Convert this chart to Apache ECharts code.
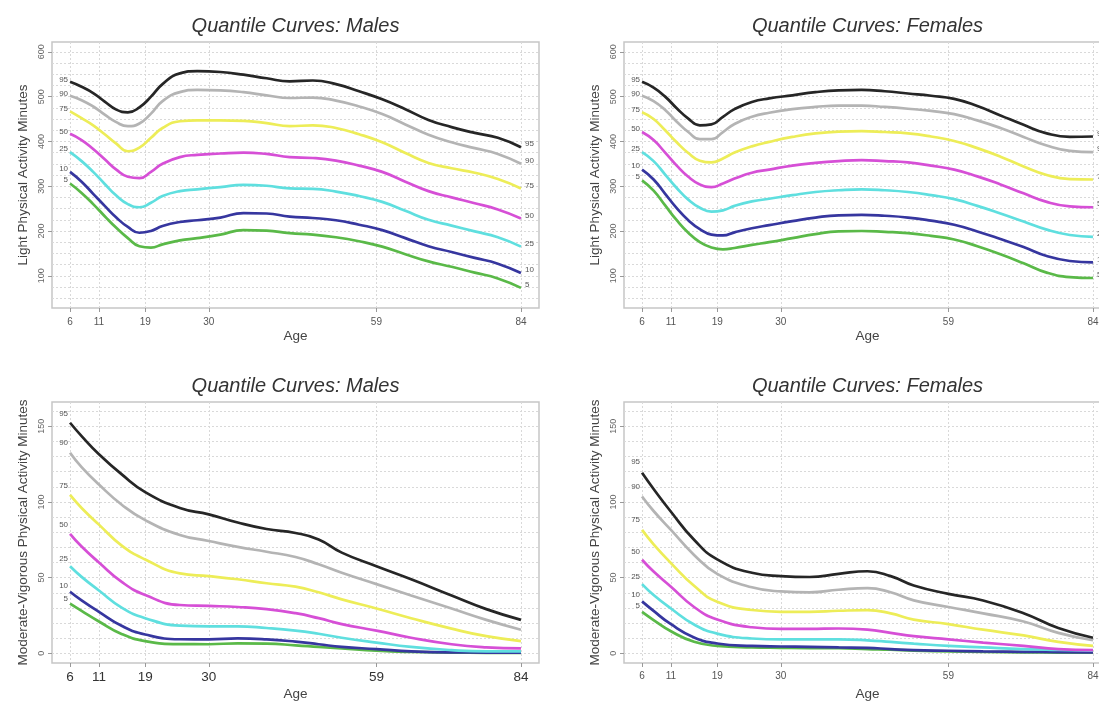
<!DOCTYPE html>
<html>
<head>
<meta charset="utf-8">
<title>Quantile Curves</title>
<script src="https://cdn.jsdelivr.net/npm/echarts@6/dist/echarts.min.js"></script>
<style>
  html, body { margin: 0; padding: 0; background: #ffffff; overflow: hidden; }
  /* the right-hand panels run slightly past the page edge */
  #chart { width: 1125px; height: 702px; }
</style>
</head>
<body>
<div id="chart"></div>
<script>
// Quantile labels and line colours, highest quantile first
const QUANTILES = ['95', '90', '75', '50', '25', '10', '5'];
const COLORS = ['#262626', '#b4b4b4', '#eded58', '#d64fd6', '#5fdfdf', '#36369f', '#5ab948'];

// Age axis ticks
const AGE_TICKS = [6, 11, 19, 30, 59, 84];
const LIGHT_TICKS = [100, 200, 300, 400, 500, 600];
const MVPA_TICKS = [0, 50, 100, 150];

// Light physical activity minutes by age
const AGES_LIGHT = [6, 8, 10, 12, 14, 16, 18, 20, 22, 25, 28, 32, 36, 40, 44, 48, 52, 56, 60, 64, 68, 72, 76, 80, 84];

const LIGHT_M_95 = [533, 522, 508, 489, 471, 465, 476, 500, 528, 552, 557, 555, 549, 541, 534, 536, 528, 512, 494, 472, 448, 432, 419, 408, 387];
const LIGHT_M_90 = [502, 492, 478, 460, 443, 434, 440, 462, 490, 510, 515, 514, 510, 503, 497, 498, 491, 478, 461, 438, 415, 398, 385, 372, 350];
const LIGHT_M_75 = [467, 452, 436, 416, 395, 378, 386, 408, 430, 445, 447, 447, 446, 441, 434, 436, 430, 416, 398, 374, 352, 340, 330, 316, 295];
const LIGHT_M_50 = [417, 403, 383, 360, 337, 321, 318, 332, 350, 365, 370, 373, 375, 372, 365, 363, 357, 346, 332, 310, 289, 275, 262, 248, 228];
const LIGHT_M_25 = [376, 356, 332, 305, 279, 260, 253, 263, 278, 289, 293, 298, 303, 301, 295, 294, 288, 278, 265, 245, 225, 212, 199, 186, 165];
const LIGHT_M_10 = [332, 310, 283, 256, 230, 209, 196, 200, 211, 220, 224, 230, 240, 239, 232, 229, 224, 214, 202, 184, 166, 153, 140, 127, 106];
const LIGHT_M_5  = [306, 285, 260, 233, 207, 184, 166, 163, 170, 179, 184, 192, 202, 201, 195, 192, 186, 177, 165, 148, 132, 120, 107, 94, 73];

const LIGHT_F_95 = [533, 520, 500, 474, 451, 436, 438, 455, 472, 488, 496, 503, 510, 514, 515, 512, 507, 502, 495, 479, 458, 437, 418, 410, 411];
const LIGHT_F_90 = [502, 490, 470, 444, 421, 405, 405, 421, 439, 455, 464, 472, 477, 480, 480, 477, 473, 468, 461, 447, 430, 410, 391, 379, 376];
const LIGHT_F_75 = [465, 450, 425, 398, 374, 357, 353, 362, 375, 389, 399, 410, 418, 422, 423, 421, 418, 411, 401, 385, 366, 344, 325, 316, 315];
const LIGHT_F_50 = [421, 403, 375, 346, 321, 304, 298, 306, 317, 330, 337, 346, 352, 356, 358, 356, 353, 346, 337, 322, 304, 284, 265, 255, 253];
const LIGHT_F_25 = [376, 356, 326, 296, 270, 252, 243, 246, 256, 266, 272, 280, 287, 291, 293, 291, 287, 280, 271, 256, 239, 221, 203, 191, 187];
const LIGHT_F_10 = [337, 315, 283, 251, 224, 204, 192, 190, 197, 206, 213, 222, 230, 235, 236, 234, 230, 223, 214, 199, 182, 164, 144, 133, 130];
const LIGHT_F_5  = [313, 290, 257, 224, 196, 175, 163, 159, 162, 169, 175, 184, 193, 199, 200, 198, 195, 189, 181, 166, 148, 128, 107, 97, 95];

// Moderate-vigorous physical activity minutes by age
const AGES_MVPA = [6, 8, 11, 15, 19, 25, 30, 35, 40, 45, 49, 53, 59, 65, 72, 78, 84];

const MVPA_M_95 = [152.3, 143.5, 131.5, 118, 106.5, 96, 91.8, 86.4, 82.1, 79.5, 75.2, 66.5, 57.5, 48.9, 38.2, 29.2, 22.1];
const MVPA_M_90 = [132.5, 123, 111.5, 98, 88, 78.2, 74.2, 70.3, 67.1, 63.6, 58.8, 53.2, 45.7, 38.2, 29.6, 22.1, 15.6];
const MVPA_M_75 = [104.6, 96, 85, 71, 62, 52.8, 51, 48.9, 46.3, 44, 40.3, 35.6, 29.6, 23.2, 16.3, 11.3, 8.1];
const MVPA_M_50 = [78.9, 70.5, 60, 47, 38.5, 31.9, 31.3, 30.6, 29.2, 26.5, 23.2, 19.3, 15, 10.3, 6, 3.9, 3.2];
const MVPA_M_25 = [57.5, 50.5, 41.5, 30, 23.2, 18.3, 17.8, 17.8, 16.7, 15, 12.9, 10.3, 7.1, 4.2, 2.1, 1.3, 1.3];
const MVPA_M_10 = [40.7, 35, 27.4, 18, 12.4, 9.3, 9.2, 9.8, 9.2, 7.7, 6, 4.2, 2.8, 1.3, 0.6, 0.5, 0.4];
const MVPA_M_5  = [32.8, 28, 21, 12.6, 8.1, 6.1, 6, 6.6, 6.4, 5.3, 4.2, 3.2, 1.7, 0.9, 0.5, 0.3, 0.2];

const MVPA_F_95 = [119.2, 108.5, 93.5, 75, 62, 53.2, 51, 50.4, 52.5, 54.2, 51, 44.8, 39.3, 34.9, 26.5, 16.7, 10.3];
const MVPA_F_90 = [103.6, 94, 81.5, 65, 52.5, 43.6, 40.9, 40.3, 42, 43.1, 40.3, 35, 30.6, 26.4, 21, 13.5, 8.6];
const MVPA_F_75 = [81.5, 72, 59.6, 44.6, 34, 28.6, 27.4, 27.4, 28.1, 28.5, 26.4, 22.3, 19.3, 15.6, 11.8, 7.5, 4.9];
const MVPA_F_50 = [61.8, 54, 44, 30.6, 22.3, 17.2, 16.1, 16.1, 16.4, 15.6, 13.5, 11.3, 9.2, 7.1, 4.9, 2.8, 2.1];
const MVPA_F_25 = [45.7, 38.5, 29.6, 19, 13, 9.8, 9.2, 9.2, 9.2, 8.6, 7.5, 6.4, 4.9, 3.9, 2.8, 2.2, 1.7];
const MVPA_F_10 = [34.3, 28, 19.2, 10.5, 6.5, 4.9, 4.5, 4.3, 3.9, 3.6, 2.8, 2.1, 1.7, 1.3, 1, 0.8, 0.6];
const MVPA_F_5  = [27.4, 22, 14.6, 7.6, 4.9, 3.9, 3.6, 3.4, 3.4, 2.8, 2.4, 1.7, 1.3, 0.9, 0.6, 0.5, 0.4];

const FONT = '"Liberation Sans", Arial, Helvetica, sans-serif';

function steps(from, to, step) {
  const out = [];
  for (let v = from; v <= to + 1e-9; v += step) out.push(v);
  return out;
}

// Panel layout: grid box, axis range, texts
const PANELS = [
  { title: 'Quantile Curves: Males', yName: 'Light Physical Activity Minutes',
    box: { left: 52, top: 42, width: 487, height: 266 },
    yMin: 28, yMax: 622, yTicks: LIGHT_TICKS, yGrid: steps(50, 600, 25),
    ages: AGES_LIGHT, series: [LIGHT_M_95, LIGHT_M_90, LIGHT_M_75, LIGHT_M_50, LIGHT_M_25, LIGHT_M_10, LIGHT_M_5],
    endLabels: true, xFont: 10, xColor: '#555', xMargin: 9, nameGap: 21, labelLift: 4 },
  { title: 'Quantile Curves: Females', yName: 'Light Physical Activity Minutes',
    box: { left: 624, top: 42, width: 487, height: 266 },
    yMin: 28, yMax: 622, yTicks: LIGHT_TICKS, yGrid: steps(50, 600, 25),
    ages: AGES_LIGHT, series: [LIGHT_F_95, LIGHT_F_90, LIGHT_F_75, LIGHT_F_50, LIGHT_F_25, LIGHT_F_10, LIGHT_F_5],
    endLabels: true, xFont: 10, xColor: '#555', xMargin: 9, nameGap: 21, labelLift: 4 },
  { title: 'Quantile Curves: Males', yName: 'Moderate-Vigorous Physical Activity Minutes',
    box: { left: 52, top: 402, width: 487, height: 267 },
    yMin: -6.4, yMax: 166, yTicks: MVPA_TICKS, yGrid: steps(0, 160, 10),
    ages: AGES_MVPA, series: [MVPA_M_95, MVPA_M_90, MVPA_M_75, MVPA_M_50, MVPA_M_25, MVPA_M_10, MVPA_M_5],
    endLabels: false, xFont: 13.5, xColor: '#333', xMargin: 7, nameGap: 24, labelLift: 8 },
  { title: 'Quantile Curves: Females', yName: 'Moderate-Vigorous Physical Activity Minutes',
    box: { left: 624, top: 402, width: 487, height: 267 },
    yMin: -6.4, yMax: 166, yTicks: MVPA_TICKS, yGrid: steps(0, 160, 10),
    ages: AGES_MVPA, series: [MVPA_F_95, MVPA_F_90, MVPA_F_75, MVPA_F_50, MVPA_F_25, MVPA_F_10, MVPA_F_5],
    endLabels: false, xFont: 10, xColor: '#555', xMargin: 8, nameGap: 24, labelLift: 8 }
];

const GRID_LINE = { show: true, lineStyle: { color: '#d9d9d9', width: 1, type: [2, 2] } };

const option = { animation: false, backgroundColor: '#ffffff', title: [], grid: [], xAxis: [], yAxis: [], series: [] };

PANELS.forEach((p, g) => {
  option.title.push({
    text: p.title, left: p.box.left + p.box.width / 2, top: p.box.top - 26, textAlign: 'center', padding: 0,
    textStyle: { fontFamily: FONT, fontSize: 20, fontStyle: 'italic', fontWeight: 'normal', color: '#333' }
  });
  option.grid.push(Object.assign({ show: true, borderColor: '#c6c6c6', borderWidth: 1.5, backgroundColor: 'transparent', containLabel: false }, p.box));
  option.xAxis.push({
    type: 'value', gridIndex: g, min: 2.88, max: 87.12,
    name: 'Age', nameLocation: 'middle', nameGap: p.nameGap,
    nameTextStyle: { fontFamily: FONT, fontSize: 13.5, color: '#444' },
    axisLine: { show: false, onZero: false },
    axisTick: { show: true, length: 4, customValues: AGE_TICKS, lineStyle: { color: '#999' } },
    axisLabel: { customValues: AGE_TICKS, margin: p.xMargin, fontFamily: FONT, fontSize: p.xFont, color: p.xColor },
    splitLine: GRID_LINE
  });
  // main value axis with labels
  option.yAxis.push({
    type: 'value', gridIndex: g, min: p.yMin, max: p.yMax,
    name: p.yName, nameLocation: 'middle', nameGap: 22,
    nameTextStyle: { fontFamily: FONT, fontSize: 13.5, color: '#444' },
    axisLine: { show: false, onZero: false },
    axisTick: { show: true, length: 4, customValues: p.yTicks, lineStyle: { color: '#999' } },
    axisLabel: { customValues: p.yTicks, rotate: 90, margin: 6, fontFamily: FONT, fontSize: 9, color: '#666' },
    splitLine: { show: false }
  });
  // companion axis carrying the dotted horizontal grid
  option.yAxis.push({
    type: 'value', gridIndex: g, min: p.yMin, max: p.yMax,
    axisLine: { show: false, onZero: false },
    axisTick: { show: false, customValues: p.yGrid },
    axisLabel: { show: false },
    splitLine: GRID_LINE
  });

  p.series.forEach((vals, k) => {
    const last = vals.length - 1;
    const data = vals.map((v, i) => {
      const item = { value: [p.ages[i], v] };
      if (i === 0) {
        item.label = { show: true, position: 'left', distance: 2, formatter: QUANTILES[k] };
      } else if (i === last && p.endLabels) {
        item.label = { show: true, position: 'right', distance: 4, offset: [0, -3], formatter: QUANTILES[k] };
      }
      return item;
    });
    option.series.push({
      type: 'line', xAxisIndex: g, yAxisIndex: 2 * g, name: p.title + ' ' + QUANTILES[k],
      data: data, smooth: true, symbol: 'circle', symbolSize: 0, showSymbol: true,
      lineStyle: { color: COLORS[k], width: 2.7 }, itemStyle: { color: COLORS[k] },
      label: { show: false, fontFamily: FONT, fontSize: 8, color: '#555' },
      emphasis: { disabled: true }, silent: true, z: 10 - k
    });
  });
});

const chart = echarts.init(document.getElementById('chart'), null, { renderer: 'canvas' });
chart.setOption(option);

// Lift the start labels along each curve's initial slope
let s = 0;
PANELS.forEach((p, g) => {
  p.series.forEach((vals) => {
    const a = chart.convertToPixel({ gridIndex: g }, [p.ages[0], vals[0]]);
    const b = chart.convertToPixel({ gridIndex: g }, [p.ages[1], vals[1]]);
    const slope = (b[1] - a[1]) / (b[0] - a[0]);
    option.series[s].data[0].label.offset = [0, -slope * p.labelLift];
    s++;
  });
});
chart.setOption({ series: option.series });
</script>
</body>
</html>
